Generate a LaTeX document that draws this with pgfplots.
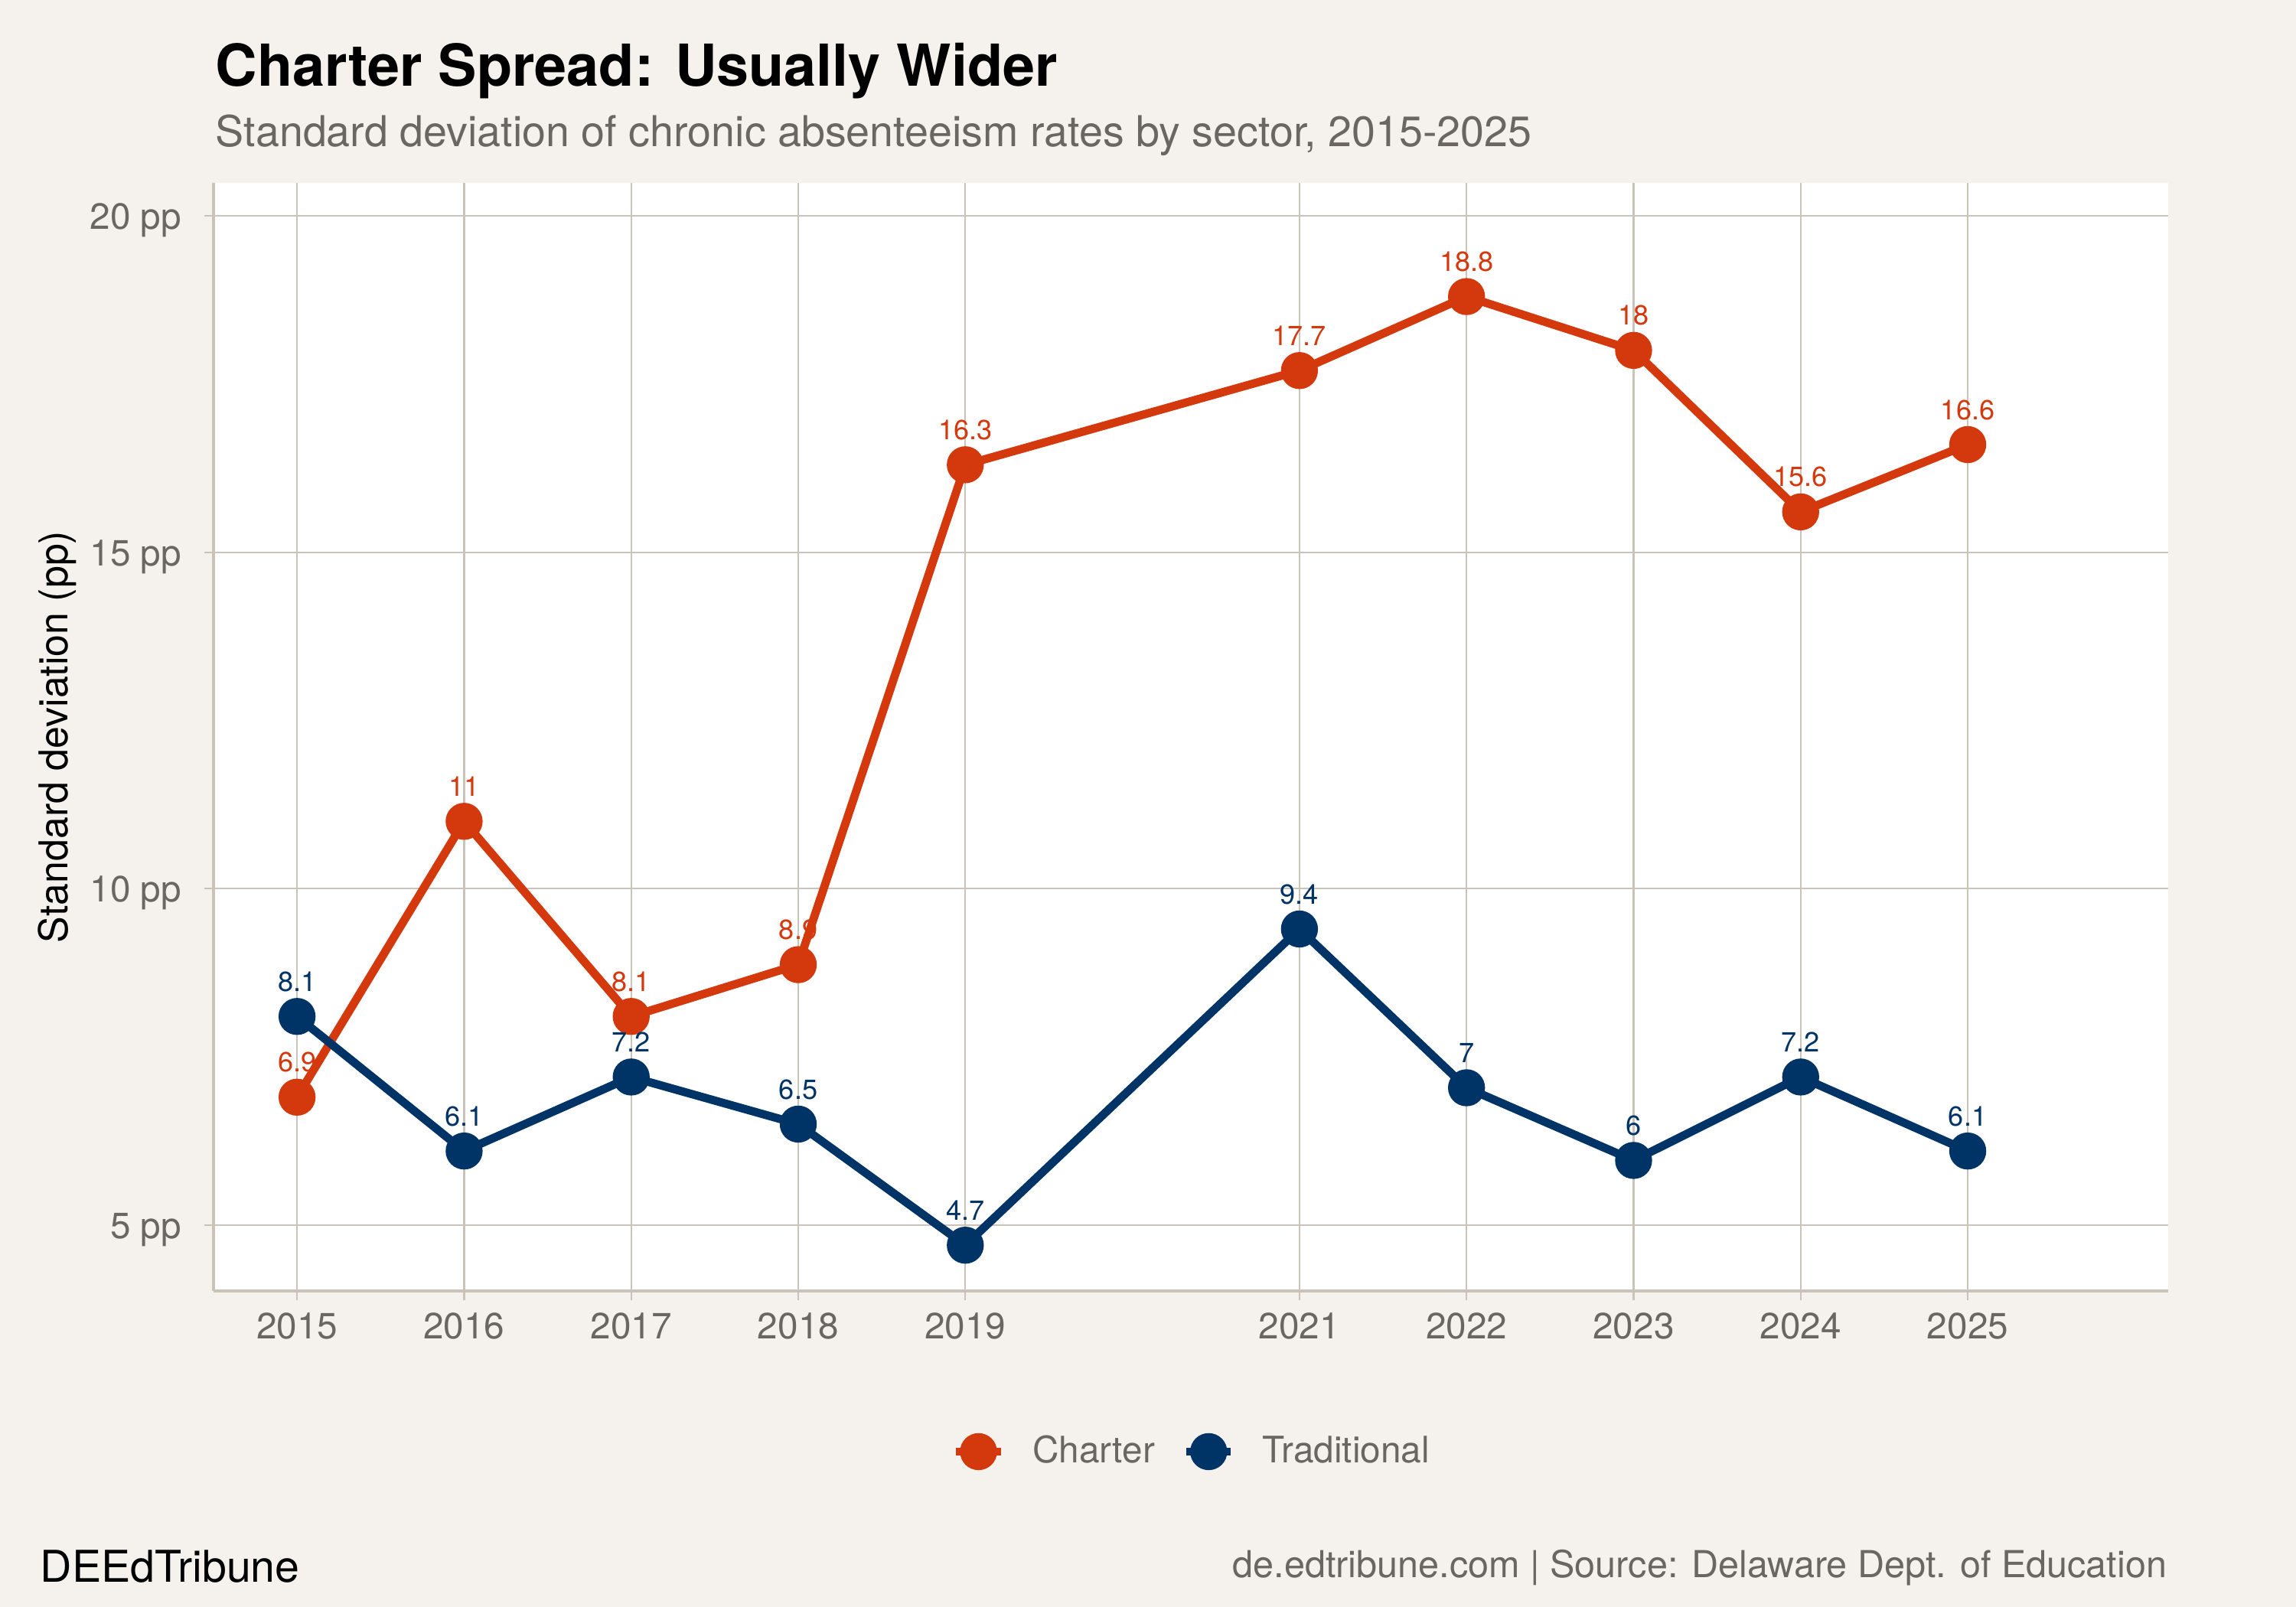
\documentclass[border=0pt]{standalone}
\usepackage{pgfplots}
\pgfplotsset{compat=1.18}
\usepackage{fontspec}
\setmainfont{TeX Gyre Heros}
\definecolor{bg}{HTML}{F5F2ED}
\definecolor{gridc}{HTML}{CAC3B9}
\definecolor{txtgray}{HTML}{6B6661}
\definecolor{charter}{HTML}{D4380D}
\definecolor{trad}{HTML}{003366}
\begin{document}
\begin{tikzpicture}
\path[use as bounding box] (0,0) rectangle (720bp,504bp);
\fill[bg] (0,0) rectangle (720bp,504bp);
\begin{axis}[
  at={(66.96bp,99.12bp)}, anchor=south west,
  scale only axis, width=612.96bp, height=347.52bp,
  xmin=2014.5, xmax=2026.2, ymin=4.02, ymax=20.49,
  axis background/.style={fill=white},
  axis x line*=bottom, axis y line*=left,
  axis line style={-, draw=gridc, line width=0.8bp},
  xtick={2015,2016,2017,2018,2019,2021,2022,2023,2024,2025},
  xticklabels={2015,2016,2017,2018,2019,2021,2022,2023,2024,2025},
  ytick={5,10,15,20}, yticklabels={5 pp,10 pp,15 pp,20 pp},
  tick align=outside, major tick length=2.9bp,
  tick style={draw=gridc, line width=0.55bp},
  grid=major, major grid style={draw=gridc, line width=0.55bp},
  ticklabel style={font=\fontsize{11.5}{13}\selectfont, text=txtgray},
  xticklabel style={anchor=base, inner sep=0pt, yshift=-12bp},
  yticklabel style={anchor=base east, inner sep=0pt, yshift=-4.2bp, xshift=-7bp},
  ylabel={Standard deviation (pp)},
  ylabel style={at={(axis description cs:-0.0744,0.5)}, anchor=base, font=\fontsize{12.5}{15}\selectfont, text=black},
  /pgf/number format/precision=1,
  /pgf/number format/assume math mode=true,
  legend style={at={(0.5,-0.145)}, anchor=center, draw=none, fill=none, legend columns=2, column sep=8.6bp, font=\fontsize{11.5}{13}\selectfont, text=txtgray, nodes={inner sep=0pt}},
  legend image code/.code={\draw[#1, mark repeat=2, mark phase=2] plot coordinates {(0bp,0bp) (7bp,0bp) (14bp,0bp)};},
  clip=false,
]
\addplot[charter, line width=2.6bp, mark=*, mark size=4.5bp, mark options={draw=none, fill=charter},
  nodes near coords, every node near coord/.append style={anchor=base, yshift=7.9bp, inner sep=0pt, font=\fontsize{8.7}{10}\selectfont, text=charter}]
  coordinates {(2015,6.9) (2016,11.0) (2017,8.1) (2018,8.87) (2019,16.3) (2021,17.7) (2022,18.8) (2023,18.0) (2024,15.6) (2025,16.6)};
\addlegendentry{Charter}
\addplot[trad, line width=2.6bp, mark=*, mark size=4.5bp, mark options={draw=none, fill=trad},
  nodes near coords, every node near coord/.append style={anchor=base, yshift=7.9bp, inner sep=0pt, font=\fontsize{8.7}{10}\selectfont, text=trad}]
  coordinates {(2015,8.1) (2016,6.1) (2017,7.2) (2018,6.5) (2019,4.7) (2021,9.4) (2022,7.04) (2023,5.96) (2024,7.2) (2025,6.1)};
\addlegendentry{Traditional}
\end{axis}
\node[anchor=base west, inner sep=0pt, text=black, font=\fontsize{18.2}{22}\selectfont\bfseries] at (67.44bp,476.88bp) {Charter Spread: Usually Wider};
\node[anchor=base west, inner sep=0pt, text=txtgray, font=\fontsize{13.4}{16}\selectfont] at (67.44bp,457.92bp) {Standard deviation of chronic absenteeism rates by sector, 2015-2025};
\node[anchor=base west, inner sep=0pt, text=black, font=\fontsize{13.8}{16}\selectfont] at (12.48bp,7.92bp) {DEEdTribune};
\node[anchor=base east, inner sep=0pt, text=txtgray, font=\fontsize{11.7}{14}\selectfont] at (679.68bp,9.36bp) {de.edtribune.com | Source: Delaware Dept. of Education};
\end{tikzpicture}
\end{document}
